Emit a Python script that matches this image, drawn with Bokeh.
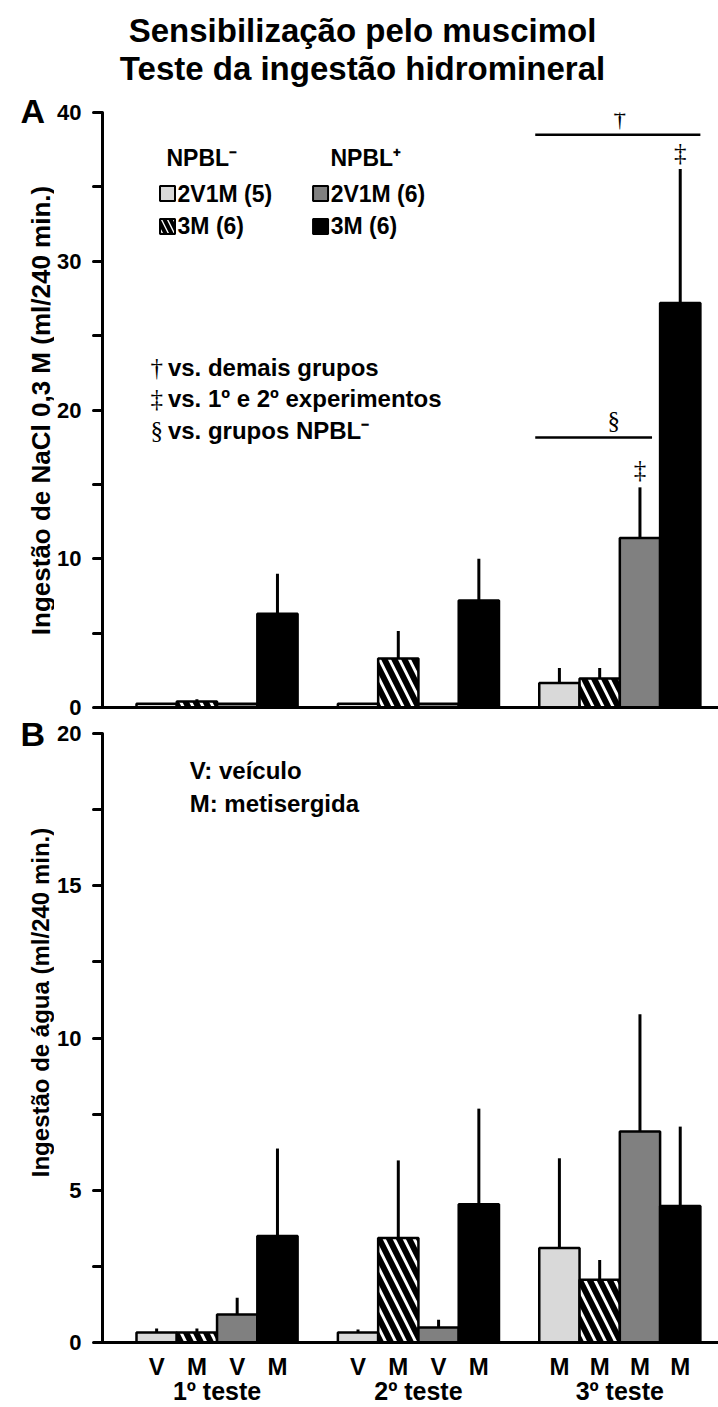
import math
from bokeh.plotting import figure
from bokeh.models import ColumnDataSource, FixedTicker, LinearAxis, Range1d, Label
from bokeh.layouts import column, row
from bokeh.embed import file_html
from bokeh.resources import INLINE

# ---------------- data ----------------
tests = ["1º teste", "2º teste", "3º teste"]
series_names = ["NPBL⁻ 2V1M (5)", "NPBL⁻ 3M (6)", "NPBL⁺ 2V1M (6)", "NPBL⁺ 3M (6)"]
treatment_labels = ["V", "M", "V", "M", "V", "M", "V", "M", "M", "M", "M", "M"]

# Panel A: NaCl 0.3 M intake (ml/240 min) per test
nacl_neg_2v1m = [0.25, 0.25, 1.65]
nacl_neg_3m = [0.4, 3.3, 1.95]
nacl_pos_2v1m = [0.25, 0.25, 11.4]
nacl_pos_3m = [6.3, 7.2, 27.2]
nacl_sem_neg_2v1m = [0.05, 0.05, 1.0]
nacl_sem_neg_3m = [0.15, 1.85, 0.7]
nacl_sem_pos_2v1m = [0.05, 0.05, 3.4]
nacl_sem_pos_3m = [2.7, 2.8, 9.0]

# Panel B: water intake (ml/240 min) per test
water_neg_2v1m = [0.33, 0.33, 3.1]
water_neg_3m = [0.33, 3.43, 2.06]
water_pos_2v1m = [0.92, 0.49, 6.93]
water_pos_3m = [3.5, 4.54, 4.48]
water_sem_neg_2v1m = [0.13, 0.1, 2.95]
water_sem_neg_3m = [0.13, 2.55, 0.65]
water_sem_pos_2v1m = [0.55, 0.26, 3.85]
water_sem_pos_3m = [2.87, 3.14, 2.61]

SANS = "Liberation Sans"
SERIF = "Liberation Serif"

styles = [
    dict(fill_color="#d9d9d9"),
    dict(fill_color="white", hatch_pattern="left_diagonal_line", hatch_color="black",
         hatch_weight=6, hatch_scale=20),
    dict(fill_color="#808080"),
    dict(fill_color="black"),
]

STRIP_W = 54
MAIN_W = 718 - STRIP_W
TITLE_H = 90
A_BOTTOM = 720


def bar_x(g, i):
    return g * 5 + i + 0.5


def blank_fig(width, height, x_rng, y_rng):
    p = figure(width=width, height=height, x_range=x_rng, y_range=y_rng,
               output_backend="svg", toolbar_location=None, x_axis_location=None,
               y_axis_location=None, min_border_left=0, min_border_right=0,
               min_border_top=0, min_border_bottom=0, outline_line_color=None,
               background_fill_color="white", border_fill_color="white")
    p.xgrid.visible = False
    p.ygrid.visible = False
    return p


def make_fig(height, y_end, border_top, border_bottom):
    p = figure(width=MAIN_W, height=height, x_range=Range1d(-0.844, 14.45),
               y_range=Range1d(0, y_end), output_backend="svg", toolbar_location=None,
               min_border_left=102 - STRIP_W, min_border_right=0, min_border_top=border_top,
               min_border_bottom=border_bottom, outline_line_color=None,
               background_fill_color="white", border_fill_color="white")
    p.xgrid.visible = False
    p.ygrid.visible = False
    return p


def style_yaxis(p, ticks, minor):
    ax = p.yaxis[0]
    ax.ticker = FixedTicker(ticks=ticks, minor_ticks=minor)
    ax.major_label_text_font = SANS
    ax.major_label_text_font_size = "22px"
    ax.major_label_text_font_style = "bold"
    ax.major_label_text_color = "black"
    ax.major_label_standoff = 12
    ax.axis_line_width = 3
    ax.axis_line_color = "black"
    ax.major_tick_line_width = 3
    ax.minor_tick_line_width = 3
    ax.major_tick_line_color = "black"
    ax.minor_tick_line_color = "black"
    ax.major_tick_out = 9
    ax.major_tick_in = 0
    ax.minor_tick_out = 9
    ax.minor_tick_in = 0
    ax.major_tick_line_cap = "round"
    ax.minor_tick_line_cap = "round"


def draw_bars(p, means, sems):
    for i, (m, s) in enumerate(zip(means, sems)):
        xs = [bar_x(g, i) for g in range(len(tests))]
        src = ColumnDataSource(dict(x=xs, top=m, etop=[a + b for a, b in zip(m, s)]))
        p.segment(x0="x", y0="top", x1="x", y1="etop", source=src, line_width=3,
                  line_color="black")
        p.vbar(x="x", top="top", bottom=0, width=1.0, source=src, line_color="black",
               line_width=2.5, **styles[i])


def add_label(p, x, y, text, size, font=SANS, align="left", style="bold", **kw):
    p.add_layout(Label(x=x, y=y, text=text, text_font=font, text_font_size=size,
                       text_font_style=style, text_align=align, text_baseline="middle",
                       text_color="black", **kw))


# ---------------- title strip ----------------
pT = blank_fig(718, TITLE_H, Range1d(0, 718), Range1d(TITLE_H, 0))
add_label(pT, 362, 30, "Sensibilização pelo muscimol", "33px", align="center")
add_label(pT, 362, 68, "Teste da ingestão hidromineral", "33px", align="center")

# ---------------- left strip (panel letters + y titles) ----------------
pS = blank_fig(STRIP_W, 1407 - TITLE_H, Range1d(0, STRIP_W), Range1d(1407, TITLE_H))
add_label(pS, 20, 110, "A", "34px")
add_label(pS, 20, 733, "B", "34px")
add_label(pS, 40, 410, "Ingestão de NaCl 0,3 M (ml/240 min.)", "26px", align="center",
          angle=math.pi / 2)
add_label(pS, 40, 1002, "Ingestão de água (ml/240 min.)", "24px", align="center",
          angle=math.pi / 2)

# ---------------- Panel A ----------------
pA = make_fig(A_BOTTOM - TITLE_H, 40, 112 - TITLE_H, A_BOTTOM - 707)
style_yaxis(pA, [0, 10, 20, 30, 40], [5, 15, 25, 35])
xa = pA.xaxis[0]
xa.ticker = FixedTicker(ticks=[])
xa.major_label_text_font_size = "0px"
xa.major_tick_line_color = None
xa.minor_tick_line_color = None
xa.axis_line_width = 3
xa.axis_line_color = "black"

nacl_means = [nacl_neg_2v1m, nacl_neg_3m, nacl_pos_2v1m, nacl_pos_3m]
nacl_sems = [nacl_sem_neg_2v1m, nacl_sem_neg_3m, nacl_sem_pos_2v1m, nacl_sem_pos_3m]
draw_bars(pA, nacl_means, nacl_sems)

# legend
add_label(pA, 0.745, 36.97, "NPBL⁻", "23px")
add_label(pA, 4.815, 36.97, "NPBL⁺", "23px")
leg_x = [0.77, 0.77, 4.57, 4.57]
leg_y = [34.55, 32.34, 34.55, 32.34]
leg_txt = ["2V1M (5)", "3M (6)", "2V1M (6)", "3M (6)"]
for i in range(4):
    st = dict(styles[i])
    if "hatch_scale" in st:
        st["hatch_scale"] = 12
        st["hatch_weight"] = 4
    pA.scatter(x=[leg_x[i]], y=[leg_y[i]], marker="square", size=15, line_color="black",
               line_width=2, **st)
    add_label(pA, leg_x[i] + 0.25, leg_y[i], leg_txt[i], "23px")

# significance legend
for sym, txt, yy in [("†", "vs. demais grupos", 22.86),
                     ("‡", "vs. 1º e 2º experimentos", 20.77),
                     ("§", "vs. grupos NPBL⁻", 18.62)]:
    add_label(pA, 0.35, yy, sym, "25px", font=SERIF, style="normal")
    add_label(pA, 0.78, yy, txt, "24px")

# significance marks on panel A
pA.line(x=[bar_x(2, 0) - 0.6, bar_x(2, 3) + 0.5], y=[38.5, 38.5], line_width=2.5,
        line_color="black")
add_label(pA, bar_x(2, 1) + 0.5, 39.65, "†", "25px", font=SERIF, style="normal", align="center")
add_label(pA, bar_x(2, 3), nacl_pos_3m[2] + nacl_sem_pos_3m[2] + 1.1, "‡", "25px",
          font=SERIF, style="normal", align="center")
pA.line(x=[bar_x(2, 0) - 0.6, bar_x(2, 2) + 0.3], y=[18.15, 18.15], line_width=2.5,
        line_color="black")
add_label(pA, bar_x(2, 1) + 0.35, 19.3, "§", "25px", font=SERIF, style="normal", align="center")
add_label(pA, bar_x(2, 2), nacl_pos_2v1m[2] + nacl_sem_pos_2v1m[2] + 1.2, "‡", "25px",
          font=SERIF, style="normal", align="center")

# ---------------- Panel B ----------------
HB = 1407 - A_BOTTOM
pB = make_fig(HB, 20, 733 - A_BOTTOM, 1407 - 1345)
style_yaxis(pB, [0, 5, 10, 15, 20], [2.5, 7.5, 12.5, 17.5])

xb = pB.xaxis[0]
bx = [bar_x(g, i) for g in range(3) for i in range(4)]
xb.ticker = FixedTicker(ticks=bx)
xb.major_label_overrides = {x: t for x, t in zip(bx, treatment_labels)}
xb.major_label_text_font = SANS
xb.major_label_text_font_size = "24px"
xb.major_label_text_font_style = "bold"
xb.major_label_text_color = "black"
xb.major_label_standoff = 10
xb.major_tick_line_color = None
xb.minor_tick_line_color = None
xb.major_tick_out = 0
xb.axis_line_width = 3
xb.axis_line_color = "black"

gx = [bar_x(g, 1) + 0.5 for g in range(3)]
ax2 = LinearAxis(ticker=FixedTicker(ticks=gx),
                 major_label_overrides={x: t for x, t in zip(gx, tests)},
                 axis_line_color=None, major_tick_line_color=None, minor_tick_line_color=None,
                 major_label_text_font=SANS, major_label_text_font_size="25px",
                 major_label_text_font_style="bold", major_label_text_color="black",
                 major_label_standoff=-6, major_tick_out=0)
pB.add_layout(ax2, "below")

water_means = [water_neg_2v1m, water_neg_3m, water_pos_2v1m, water_pos_3m]
water_sems = [water_sem_neg_2v1m, water_sem_neg_3m, water_sem_pos_2v1m, water_sem_pos_3m]
draw_bars(pB, water_means, water_sems)

add_label(pB, 1.32, 18.79, "V: veículo", "24px")
add_label(pB, 1.32, 17.71, "M: metisergida", "24px")

layout = column(pT, row(pS, column(pA, pB, spacing=0), spacing=0), spacing=0)
open("out.html", "w").write(file_html(layout, INLINE))
